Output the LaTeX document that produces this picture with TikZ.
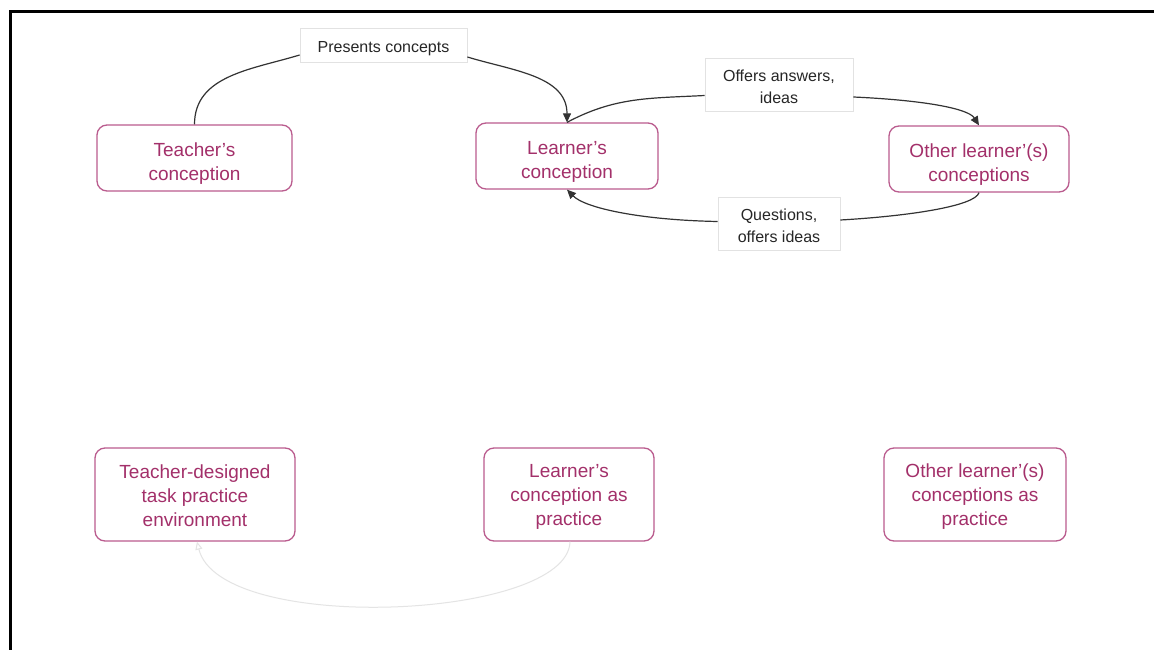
\documentclass[tikz,border=0pt]{standalone}
\usepackage{fontspec}
\setmainfont{Liberation Sans}
\usetikzlibrary{arrows.meta}
\definecolor{boxtext}{HTML}{A3306A}
\definecolor{boxline}{HTML}{BA5C8E}
\definecolor{edgecol}{HTML}{333333}
\definecolor{lblline}{HTML}{E2E2E2}
\definecolor{faint}{HTML}{E4E4E4}
\newcommand\dropA{\rule{0pt}{24pt}}
\newcommand\dropB{\rule{0pt}{17pt}}
\newcommand\dropC{\rule{0pt}{17.7pt}}
\newcommand\dropD{\rule{0pt}{15.5pt}}
\tikzset{
  concept/.style={draw=boxline, line width=1.3pt, rounded corners=10pt, fill=white,
    text=boxtext, align=center, inner sep=0pt, font=\fontsize{19}{24}\selectfont},
  lbl/.style={draw=lblline, line width=0.8pt, fill=white, text=black!85, align=center,
    inner sep=0pt, font=\fontsize{16}{22}\selectfont},
  conn/.style={draw=edgecol, line width=1.2pt},
  tip/.style={-{Triangle[length=9pt,width=8pt]}},
}
\begin{document}
\begin{tikzpicture}[x=1pt,y=-1pt]
\useasboundingbox (0,0) rectangle (1154,650);
\fill[white] (0,0) rectangle (1154,650);
% frame
\draw[line width=3pt, line cap=rect] (1154,12) -- (10,12) -- (10,650);

% concept boxes
\node[concept, minimum width=195pt, minimum height=66pt] (tc) at (194.5,158) {\dropA Teacher’s\\conception};
\node[concept, minimum width=182pt, minimum height=66pt] (lc) at (567,156) {\dropA Learner’s\\conception};
\node[concept, minimum width=180pt, minimum height=66pt] (oc) at (979,159) {\dropA Other learner’(s)\\conceptions};
\node[concept, minimum width=200pt, minimum height=93pt] (td) at (195,494.5) {\dropB Teacher-designed\\task practice\\environment};
\node[concept, minimum width=170pt, minimum height=93pt] (lp) at (569,494.5) {\dropB Learner’s\\conception as\\practice};
\node[concept, minimum width=182pt, minimum height=93pt] (op) at (975,494.5) {\dropB Other learner’(s)\\conceptions as\\practice};

% label boxes
\node[lbl, minimum width=167pt, minimum height=34pt] (pres) at (383.5,45) {\dropC Presents concepts};
\node[lbl, minimum width=148pt, minimum height=53pt] (offers) at (779,84.5) {\dropD Offers answers,\\ideas};
\node[lbl, minimum width=122pt, minimum height=53pt] (quest) at (779,223.5) {\dropD Questions,\\offers ideas};

% connectors
\draw[conn] (tc.north) to[out=90, in=197] ([yshift=-10pt]pres.west);
\draw[conn, tip] ([yshift=-12pt]pres.east) to[out=-17, in=90] (lc.north);
\draw[conn] (lc.north) to[out=28, in=183] ([yshift=-11pt]offers.west);
\draw[conn, tip] ([yshift=-12.5pt]offers.east) .. controls (920,100) and (968,108) .. (oc.north);
\draw[conn] (oc.south) .. controls (975,206) and (910,216) .. ([yshift=3.5pt]quest.east);
\draw[conn, tip] ([yshift=2pt]quest.west) .. controls (640,220) and (585,208) .. (lc.south);

% faint bottom arc
\draw[draw=faint, line width=1pt, -{Triangle[length=8pt,width=7pt,open]}]
  ([xshift=1pt]lp.south) .. controls (568,620) and (220,635) .. ([xshift=2pt]td.south);
\end{tikzpicture}
\end{document}
